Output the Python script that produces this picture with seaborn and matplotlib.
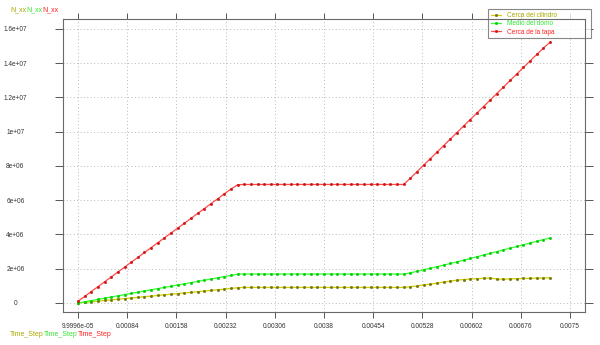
import matplotlib
matplotlib.use("Agg")
import matplotlib.pyplot as plt
import seaborn as sns
import pandas as pd

# ---------------- data ----------------
time_step = [round(0.0001 * k, 4) for k in range(1, 73)]

cerca_tapa = [  # millions
    0.10, 0.38, 0.67, 0.95, 1.24, 1.52, 1.81, 2.09, 2.38, 2.66,
    2.95, 3.23, 3.52, 3.80, 4.09, 4.37, 4.66, 4.94, 5.23, 5.51,
    5.80, 6.08, 6.37, 6.65, 6.90, 6.92, 6.92, 6.92, 6.92, 6.92,
    6.92, 6.92, 6.92, 6.92, 6.92, 6.92, 6.92, 6.92, 6.92, 6.92,
    6.92, 6.92, 6.92, 6.92, 6.92, 6.92, 6.92, 6.92, 6.92, 6.92,
    7.29, 7.67, 8.05, 8.43, 8.81, 9.19, 9.57, 9.95, 10.33, 10.71,
    11.09, 11.47, 11.85, 12.23, 12.61, 12.99, 13.37, 13.75, 14.13, 14.51,
    14.88, 15.22,
]
medio_domo = [
    0.00, 0.07, 0.14, 0.21, 0.28, 0.35, 0.42, 0.49, 0.56, 0.63,
    0.70, 0.77, 0.84, 0.91, 0.98, 1.05, 1.12, 1.19, 1.26, 1.33,
    1.40, 1.47, 1.54, 1.61, 1.68, 1.69, 1.69, 1.69, 1.69, 1.69,
    1.69, 1.69, 1.69, 1.69, 1.69, 1.69, 1.69, 1.69, 1.69, 1.69,
    1.69, 1.69, 1.69, 1.69, 1.69, 1.69, 1.69, 1.69, 1.69, 1.69,
    1.76, 1.85, 1.94, 2.03, 2.12, 2.21, 2.31, 2.40, 2.50, 2.60,
    2.70, 2.80, 2.90, 3.00, 3.10, 3.20, 3.30, 3.40, 3.50, 3.60,
    3.70, 3.80,
]
cerca_cilindro = [
    0.00, 0.04, 0.07, 0.11, 0.15, 0.18, 0.22, 0.26, 0.29, 0.33,
    0.37, 0.40, 0.44, 0.48, 0.51, 0.55, 0.59, 0.62, 0.66, 0.70,
    0.73, 0.77, 0.81, 0.85, 0.89, 0.91, 0.91, 0.91, 0.91, 0.91,
    0.91, 0.91, 0.91, 0.91, 0.91, 0.91, 0.91, 0.91, 0.91, 0.91,
    0.91, 0.91, 0.91, 0.91, 0.91, 0.91, 0.91, 0.91, 0.91, 0.91,
    0.95, 1.00, 1.05, 1.10, 1.16, 1.22, 1.28, 1.33, 1.37, 1.40,
    1.42, 1.44, 1.46, 1.40, 1.39, 1.41, 1.42, 1.43, 1.44, 1.45,
    1.46, 1.47,
]

series_names = ["Cerca del cilindro", "Medio del domo", "Cerca de la tapa"]
x_tick_vals = [0.0001 + 0.00074 * i for i in range(11)]
x_tick_labels = ["9.9996e-05", "0.00084", "0.00158", "0.00232", "0.00306",
                 "0.0038", "0.00454", "0.00528", "0.00602", "0.00676", "0.0075"]
y_tick_vals = [0, 2e6, 4e6, 6e6, 8e6, 1e7, 1.2e7, 1.4e7, 1.6e7]
y_tick_labels = ["0", "2e+06", "4e+06", "6e+06", "8e+06", "1e+07",
                 "1.2e+07", "1.4e+07", "1.6e+07"]

line_colors = ["#d0d000", "#33ff33", "#ff4a4a"]
marker_colors = ["#707000", "#00cc00", "#cc1010"]
text_colors = ["#a8a800", "#33e633", "#ff2020"]

df = pd.DataFrame({
    "Time_Step": time_step * 3,
    "N_xx": [v * 1e6 for v in cerca_cilindro + medio_domo + cerca_tapa],
    "serie": [series_names[0]] * 72 + [series_names[1]] * 72 + [series_names[2]] * 72,
})

# ---------------- plot ----------------
sns.set_style("white")
plt.rcParams["font.family"] = ["Liberation Sans", "DejaVu Sans"]
FS = 4.7

fig = plt.figure(figsize=(6.0, 3.45), dpi=100)
ax = fig.add_axes([63 / 600, 1 - 312 / 345, (585 - 63) / 600, (312 - 19) / 345])

for name, lc, mc in zip(series_names, line_colors, marker_colors):
    sub = df[df["serie"] == name]
    sns.lineplot(data=sub, x="Time_Step", y="N_xx", ax=ax, color=lc,
                 marker="o", markersize=1.9, markerfacecolor=mc,
                 markeredgecolor=mc, markeredgewidth=0.2, linewidth=0.9,
                 label=name, legend=False)

ax.set_xlim(-0.0001256, 0.007726)
ax.set_ylim(-0.526e6, 16.58e6)
ax.set_xticks(x_tick_vals)
ax.set_xticklabels(x_tick_labels, fontsize=FS, color="#333333")
ax.set_yticks(y_tick_vals)
ax.set_yticklabels(y_tick_labels, fontsize=FS, color="#333333", ha="center")
ax.set_xlabel("")
ax.set_ylabel("")

ax.tick_params(axis="x", direction="out", length=4.3, width=0.7, color="#555555",
               top=True, bottom=True, pad=3.5)
ax.tick_params(axis="y", direction="out", length=5.8, width=0.7, color="#555555",
               left=True, right=True, pad=28.5)

ax.grid(True, color="#b8b8b8", linestyle=(0, (1, 2.5)), linewidth=0.7)
for s in ax.spines.values():
    s.set_visible(True)
    s.set_color("#6a6a6a")
    s.set_linewidth(0.8)
    s.set_zorder(10)

handles, labels = ax.get_legend_handles_labels()
leg = ax.legend(handles, labels, loc="upper left",
                bbox_to_anchor=(488 / 600, 1 - 37 / 345, 103 / 600, 28 / 345),
                bbox_transform=fig.transFigure, mode="expand",
                fontsize=FS, frameon=True, fancybox=False,
                handlelength=1.6, handletextpad=0.8, labelspacing=0.2,
                borderpad=0.45, borderaxespad=0)
leg.get_frame().set_edgecolor("#6a6a6a")
leg.get_frame().set_linewidth(0.8)
leg.set_zorder(5)
for t, c in zip(leg.get_texts(), text_colors):
    t.set_color(c)

# Multi-colored axis titles
def colored_words(x, y, word, colors):
    renderer = fig.canvas.get_renderer()
    xpos = x
    for c in colors:
        t = fig.text(xpos, y, word, color=c, fontsize=FS + 0.3, ha="left", va="center")
        bb = t.get_window_extent(renderer=renderer)
        xpos += bb.width / fig.bbox.width

colored_words(10 / 600, 1 - 10 / 345, "N_xx", text_colors)
colored_words(10 / 600, 1 - 334 / 345, "Time_Step", text_colors)

fig.savefig("out.png", dpi=100)
